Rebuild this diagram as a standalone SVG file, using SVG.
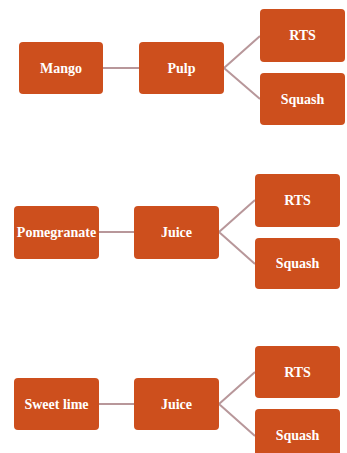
<svg xmlns="http://www.w3.org/2000/svg" width="347" height="453" viewBox="0 0 347 453">
<style>
.box{fill:#CD4F1D;}
.lbl{fill:#fff;font-family:"Liberation Serif",serif;font-weight:bold;font-size:14px;text-anchor:middle;dominant-baseline:central;}
.con{stroke:#B8979A;stroke-width:2;fill:none;}
</style>
<rect width="347" height="453" fill="#fff"/>
<g id="connectors">
<path class="con" d="M103,68 H139"/>
<path class="con" d="M224,68 L260,36 M224,68 L260,99"/>
<path class="con" d="M99,232 H134"/>
<path class="con" d="M219,232 L255,200 M219,232 L255,264"/>
<path class="con" d="M99,404 H134"/>
<path class="con" d="M219,404 L255,372 M219,404 L255,436"/>
</g>
<g id="mango"><rect class="box" x="19" y="42" width="84" height="52" rx="4"/><text class="lbl" x="61" y="68">Mango</text></g>
<g id="pulp"><rect class="box" x="139" y="42" width="85" height="52" rx="4"/><text class="lbl" x="181.5" y="68">Pulp</text></g>
<g id="rts1"><rect class="box" x="260" y="9" width="85" height="53" rx="4"/><text class="lbl" x="302.5" y="35.5">RTS</text></g>
<g id="squash1"><rect class="box" x="260" y="73" width="85" height="52" rx="4"/><text class="lbl" x="302.5" y="99">Squash</text></g>
<g id="pomegranate"><rect class="box" x="14" y="206" width="85" height="53" rx="4"/><text class="lbl" x="56.5" y="232.5">Pomegranate</text></g>
<g id="juice1"><rect class="box" x="134" y="206" width="85" height="53" rx="4"/><text class="lbl" x="176.5" y="232.5">Juice</text></g>
<g id="rts2"><rect class="box" x="255" y="174" width="85" height="53" rx="4"/><text class="lbl" x="297.5" y="200.5">RTS</text></g>
<g id="squash2"><rect class="box" x="255" y="238" width="85" height="51" rx="4"/><text class="lbl" x="297.5" y="263.5">Squash</text></g>
<g id="sweetlime"><rect class="box" x="14" y="378" width="85" height="52" rx="4"/><text class="lbl" x="56.5" y="404">Sweet lime</text></g>
<g id="juice2"><rect class="box" x="134" y="378" width="85" height="52" rx="4"/><text class="lbl" x="176.5" y="404">Juice</text></g>
<g id="rts3"><rect class="box" x="255" y="346" width="85" height="52" rx="4"/><text class="lbl" x="297.5" y="372">RTS</text></g>
<g id="squash3"><rect class="box" x="255" y="409" width="85" height="52" rx="4"/><text class="lbl" x="297.5" y="435">Squash</text></g>
</svg>
